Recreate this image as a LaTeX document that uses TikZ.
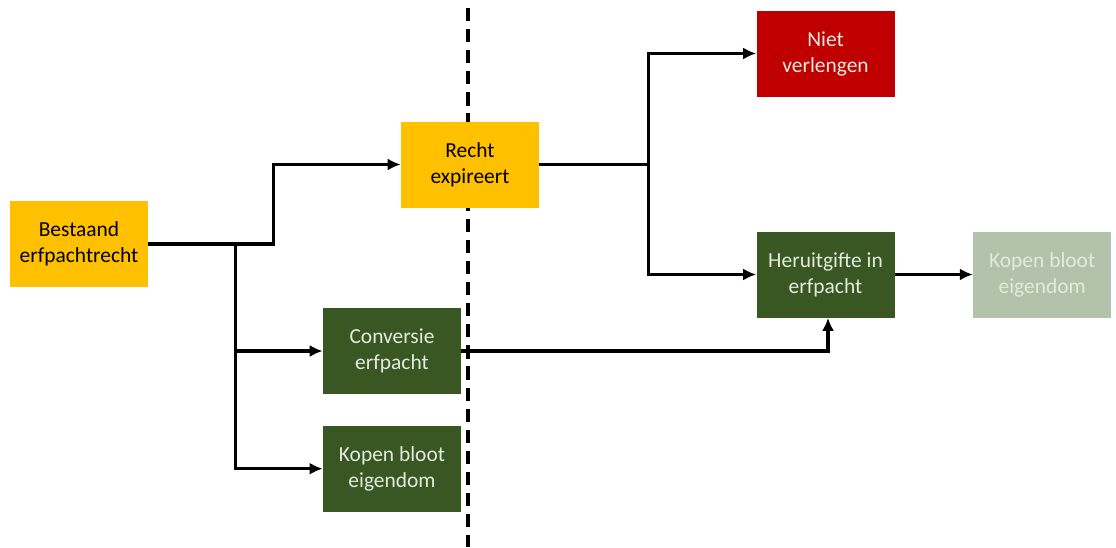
\documentclass[tikz,border=0pt]{standalone}
\usepackage{fontspec}
\setmainfont{Carlito}
\usepackage{tikz}
\usetikzlibrary{arrows.meta, positioning, calc}

\definecolor{geel}{HTML}{FFC000}
\definecolor{rood}{HTML}{C00000}
\definecolor{donkergroen}{HTML}{385723}
\definecolor{lichtgroen}{HTML}{B3C2AB}
\definecolor{tekstlicht}{HTML}{E2EBDD}

\tikzset{
    blok/.style={rectangle, minimum width=2.76cm, minimum height=1.72cm, align=center, font=\fontsize{12.2}{14.8}\selectfont},
    pijl/.style={-{Latex[length=2.6mm, width=2.4mm]}, line width=1.8pt}
}

\begin{document}
\begin{tikzpicture}[]
    \useasboundingbox (0,0) rectangle (22.32,-10.94);

    % scheidslijn (achter de blokken)
    \draw[line width=1.9pt, dash pattern=on 7.5pt off 4.5pt] (9.36,-0.16) -- (9.36,-10.94);

    \node (bestaand) [blok, fill=geel] at (1.58,-4.88) {Bestaand\\erfpachtrecht};
    \node (recht) [blok, fill=geel] at (9.4,-3.29) {Recht\\expireert};
    \node (niet) [blok, fill=rood, text=tekstlicht] at (16.51,-1.07) {Niet\\verlengen};
    \node (heruit) [blok, fill=donkergroen, text=tekstlicht] at (16.51,-5.49) {Heruitgifte in\\erfpacht};
    \node (kopenlicht) [blok, fill=lichtgroen, text=tekstlicht, right=1.56 of heruit] {Kopen bloot\\eigendom};
    \node (conversie) [blok, fill=donkergroen, text=tekstlicht] at (7.84,-7.02) {Conversie\\erfpacht};
    \node (kopen) [blok, fill=donkergroen, text=tekstlicht, below=0.62 of conversie] {Kopen bloot\\eigendom};

    \coordinate (splits) at ($(bestaand.east)+(1.74,0)$);
    \coordinate (splitsrecht) at ($(recht.east)+(2.18,0)$);

    \draw[pijl] (bestaand.east) -- ++(2.5,0) |- (recht.west);
    \draw[pijl] (splits) |- (conversie.west);
    \draw[pijl] (splits) |- (kopen.west);

    \draw[pijl] (recht.east) -- (splitsrecht) |- (niet.west);
    \draw[pijl] (splitsrecht) |- (heruit.west);

    \draw[pijl] (conversie.east) -| ($(heruit.south)+(0.05,0)$);
    \draw[pijl] (heruit.east) -- (kopenlicht.west);
\end{tikzpicture}
\end{document}
